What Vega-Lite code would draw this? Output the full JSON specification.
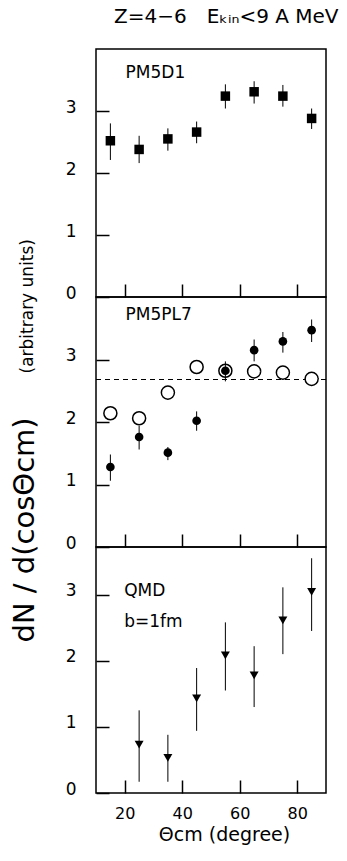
{
  "$schema": "https://vega.github.io/schema/vega-lite/v6.json",
  "background": "white",
  "padding": {"left": 9, "top": 7, "right": 8, "bottom": 5},
  "title": {"text": "Z=4−6\u2003Eₖᵢₙ<9 A MeV", "fontSize": 20, "font": "DejaVu Sans", "fontWeight": "normal", "color": "black", "anchor": "middle", "dx": 58, "offset": 21},
  "datasets": {
    "pts": [
      {"panel": "PM5D1", "series": "square", "theta": 15, "value": 2.52, "lo": 2.21, "hi": 2.80},
      {"panel": "PM5D1", "series": "square", "theta": 25, "value": 2.38, "lo": 2.16, "hi": 2.60},
      {"panel": "PM5D1", "series": "square", "theta": 35, "value": 2.55, "lo": 2.36, "hi": 2.72},
      {"panel": "PM5D1", "series": "square", "theta": 45, "value": 2.66, "lo": 2.48, "hi": 2.83},
      {"panel": "PM5D1", "series": "square", "theta": 55, "value": 3.24, "lo": 3.04, "hi": 3.43},
      {"panel": "PM5D1", "series": "square", "theta": 65, "value": 3.31, "lo": 3.12, "hi": 3.48},
      {"panel": "PM5D1", "series": "square", "theta": 75, "value": 3.24, "lo": 3.07, "hi": 3.42},
      {"panel": "PM5D1", "series": "square", "theta": 85, "value": 2.88, "lo": 2.71, "hi": 3.04},
      {"panel": "PM5PL7", "series": "filled", "theta": 15, "value": 1.28, "lo": 1.06, "hi": 1.48},
      {"panel": "PM5PL7", "series": "filled", "theta": 25, "value": 1.76, "lo": 1.56, "hi": 1.94},
      {"panel": "PM5PL7", "series": "filled", "theta": 35, "value": 1.51, "lo": 1.39, "hi": 1.60},
      {"panel": "PM5PL7", "series": "filled", "theta": 45, "value": 2.02, "lo": 1.86, "hi": 2.17},
      {"panel": "PM5PL7", "series": "filled", "theta": 55, "value": 2.82, "lo": 2.65, "hi": 2.97},
      {"panel": "PM5PL7", "series": "filled", "theta": 65, "value": 3.15, "lo": 2.97, "hi": 3.32},
      {"panel": "PM5PL7", "series": "filled", "theta": 75, "value": 3.29, "lo": 3.11, "hi": 3.44},
      {"panel": "PM5PL7", "series": "filled", "theta": 85, "value": 3.47, "lo": 3.28, "hi": 3.64},
      {"panel": "PM5PL7", "series": "open", "theta": 15, "value": 2.14},
      {"panel": "PM5PL7", "series": "open", "theta": 25, "value": 2.06},
      {"panel": "PM5PL7", "series": "open", "theta": 35, "value": 2.47},
      {"panel": "PM5PL7", "series": "open", "theta": 45, "value": 2.88},
      {"panel": "PM5PL7", "series": "open", "theta": 55, "value": 2.82},
      {"panel": "PM5PL7", "series": "open", "theta": 65, "value": 2.81},
      {"panel": "PM5PL7", "series": "open", "theta": 75, "value": 2.79},
      {"panel": "PM5PL7", "series": "open", "theta": 85, "value": 2.69},
      {"panel": "QMD", "series": "triangle", "theta": 25, "value": 0.73, "lo": 0.17, "hi": 1.25},
      {"panel": "QMD", "series": "triangle", "theta": 35, "value": 0.53, "lo": 0.17, "hi": 0.88},
      {"panel": "QMD", "series": "triangle", "theta": 45, "value": 1.43, "lo": 0.94, "hi": 1.89},
      {"panel": "QMD", "series": "triangle", "theta": 55, "value": 2.08, "lo": 1.55, "hi": 2.58},
      {"panel": "QMD", "series": "triangle", "theta": 65, "value": 1.78, "lo": 1.30, "hi": 2.22},
      {"panel": "QMD", "series": "triangle", "theta": 75, "value": 2.61, "lo": 2.10, "hi": 3.11},
      {"panel": "QMD", "series": "triangle", "theta": 85, "value": 3.04, "lo": 2.45, "hi": 3.55}
    ]
  },
  "spacing": 0,
  "bounds": "flush",
  "vconcat": [
    {
      "width": 230, "height": 248,
      "layer": [
        {
          "data": {"name": "pts"},
          "transform": [{"filter": "datum.panel == 'PM5D1'"}],
          "mark": {"type": "rule", "color": "black", "strokeWidth": 1},
          "encoding": {
            "x": {"field": "theta", "type": "quantitative", "scale": {"domain": [10, 90], "nice": false, "zero": false},
                  "axis": {"values": [20, 40, 60, 80], "labels": false, "title": null}},
            "y": {"field": "lo", "type": "quantitative", "scale": {"domain": [0, 4], "nice": false},
                  "axis": {"values": [0, 1, 2, 3], "format": "d", "title": "(arbitrary units)", "titleFontSize": 17, "titleAngle": 270, "titleAlign": "left", "titleBaseline": "alphabetic", "titleX": -77, "titleY": 324}},
            "y2": {"field": "hi"}
          }
        },
        {
          "data": {"name": "pts"},
          "transform": [{"filter": "datum.panel == 'PM5D1'"}],
          "mark": {"type": "point", "shape": "square", "filled": true, "color": "black", "opacity": 1, "size": 90},
          "encoding": {
            "x": {"field": "theta", "type": "quantitative"},
            "y": {"field": "value", "type": "quantitative"}
          }
        },
        {
          "data": {"values": [{"label": "PM5D1"}]},
          "mark": {"type": "text", "align": "left", "baseline": "middle", "fontSize": 17, "font": "DejaVu Sans", "color": "black"},
          "encoding": {"x": {"datum": 20.3}, "y": {"datum": 3.61}, "text": {"field": "label"}}
        }
      ]
    },
    {
      "width": 230, "height": 250,
      "layer": [
        {
          "data": {"values": [{"level": 2.68}]},
          "mark": {"type": "rule", "color": "black", "strokeWidth": 1.2, "strokeDash": [5, 4]},
          "encoding": {
            "y": {"field": "level", "type": "quantitative", "scale": {"domain": [0, 4], "nice": false},
                  "axis": {"values": [0, 1, 2, 3], "format": "d", "title": "dN / d(cosΘcm)", "titleFontSize": 29, "titleAngle": 270, "titleAlign": "left", "titleBaseline": "alphabetic", "titleX": -76, "titleY": 345}}
          }
        },
        {
          "data": {"name": "pts"},
          "transform": [{"filter": "datum.series == 'open'"}],
          "mark": {"type": "point", "shape": "circle", "filled": true, "fill": "white", "stroke": "black", "strokeWidth": 1.5, "opacity": 1, "size": 170},
          "encoding": {
            "x": {"field": "theta", "type": "quantitative", "scale": {"domain": [10, 90], "nice": false, "zero": false},
                  "axis": {"values": [20, 40, 60, 80], "labels": false, "title": null}},
            "y": {"field": "value", "type": "quantitative"}
          }
        },
        {
          "data": {"name": "pts"},
          "transform": [{"filter": "datum.series == 'filled'"}],
          "mark": {"type": "rule", "color": "black", "strokeWidth": 1},
          "encoding": {
            "x": {"field": "theta", "type": "quantitative"},
            "y": {"field": "lo", "type": "quantitative"},
            "y2": {"field": "hi"}
          }
        },
        {
          "data": {"name": "pts"},
          "transform": [{"filter": "datum.series == 'filled'"}],
          "mark": {"type": "point", "shape": "circle", "filled": true, "color": "black", "opacity": 1, "size": 75},
          "encoding": {
            "x": {"field": "theta", "type": "quantitative"},
            "y": {"field": "value", "type": "quantitative"}
          }
        },
        {
          "data": {"values": [{"label": "PM5PL7"}]},
          "mark": {"type": "text", "align": "left", "baseline": "middle", "fontSize": 17, "font": "DejaVu Sans", "color": "black"},
          "encoding": {"x": {"datum": 20.3}, "y": {"datum": 3.72}, "text": {"field": "label"}}
        }
      ]
    },
    {
      "width": 230, "height": 246,
      "layer": [
        {
          "data": {"name": "pts"},
          "transform": [{"filter": "datum.panel == 'QMD'"}],
          "mark": {"type": "rule", "color": "black", "strokeWidth": 1},
          "encoding": {
            "x": {"field": "theta", "type": "quantitative", "scale": {"domain": [10, 90], "nice": false, "zero": false},
                  "axis": {"values": [20, 40, 60, 80], "labels": true, "title": "Θcm (degree)", "titleFontSize": 19, "titlePadding": 4, "titleX": 128, "labelFontSize": 16, "labelPadding": 12}},
            "y": {"field": "lo", "type": "quantitative", "scale": {"domain": [0, 3.72], "nice": false},
                  "axis": {"values": [0, 1, 2, 3], "format": "d", "title": null}},
            "y2": {"field": "hi"}
          }
        },
        {
          "data": {"name": "pts"},
          "transform": [{"filter": "datum.panel == 'QMD'"}],
          "mark": {"type": "point", "shape": "triangle-down", "filled": true, "color": "black", "opacity": 1, "size": 80},
          "encoding": {
            "x": {"field": "theta", "type": "quantitative"},
            "y": {"field": "value", "type": "quantitative"}
          }
        },
        {
          "data": {"values": [{"label": "QMD"}]},
          "mark": {"type": "text", "align": "left", "baseline": "middle", "fontSize": 17, "font": "DejaVu Sans", "color": "black"},
          "encoding": {"x": {"datum": 19.8}, "y": {"datum": 3.06}, "text": {"field": "label"}}
        },
        {
          "data": {"values": [{"label": "b=1fm"}]},
          "mark": {"type": "text", "align": "left", "baseline": "middle", "fontSize": 17, "font": "DejaVu Sans", "color": "black"},
          "encoding": {"x": {"datum": 19.8}, "y": {"datum": 2.58}, "text": {"field": "label"}}
        }
      ]
    }
  ],
  "config": {
    "font": "DejaVu Sans",
    "view": {"stroke": "black", "strokeWidth": 1.5},
    "axis": {
      "grid": false, "domain": false, "ticks": true, "zindex": 1, "offset": -13,
      "tickColor": "black", "tickOpacity": 1, "tickWidth": 1.5, "tickSize": 13,
      "labelColor": "black", "labelFont": "DejaVu Sans", "labelFontSize": 17, "labelPadding": 20,
      "titleColor": "black", "titleFont": "DejaVu Sans", "titleFontWeight": "normal"
    },
    "axisY": {"labelOffset": -4}
  }
}
